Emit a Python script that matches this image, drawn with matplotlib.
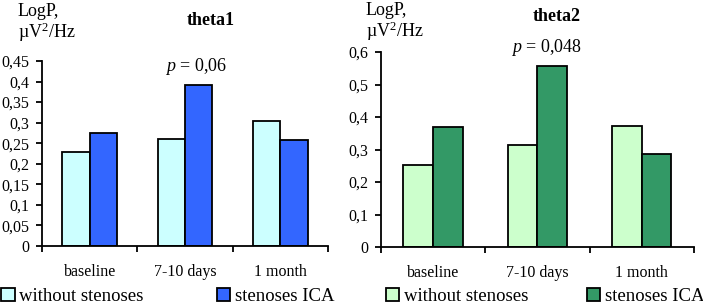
import matplotlib.pyplot as plt
import matplotlib.patches as mpatches
from matplotlib.ticker import FuncFormatter, MultipleLocator
import numpy as np

plt.rcParams['font.family'] = ['Liberation Serif', 'DejaVu Serif']
plt.rcParams['mathtext.fontset'] = 'custom'
plt.rcParams['mathtext.rm'] = 'Liberation Serif'
plt.rcParams['mathtext.it'] = 'Liberation Serif:italic'

periods = ['baseline', '7-10 days', '1 month']
series_names = ['without stenoses', 'stenoses ICA']

theta1_without = [0.229, 0.260, 0.304]
theta1_ica = [0.276, 0.391, 0.257]
theta2_without = [0.252, 0.313, 0.372]
theta2_ica = [0.369, 0.557, 0.287]

p_theta1 = '0,06'
p_theta2 = '0,048'


def comma(v, pos):
    s = ('%.2f' % v).rstrip('0').rstrip('.')
    return s.replace('.', ',')


def draw(ax, a, b, colors, ymax, step, ptext, px, py):
    x = np.arange(len(periods))
    w = 0.285
    ax.bar(x - w, a, w, align='edge', color=colors[0], edgecolor='black', linewidth=1.3)
    ax.bar(x, b, w, align='edge', color=colors[1], edgecolor='black', linewidth=1.3)
    ax.set_xlim(-0.5, len(periods) - 0.5)
    ax.set_ylim(0, ymax)
    ax.yaxis.set_major_locator(MultipleLocator(step))
    ax.yaxis.set_major_formatter(FuncFormatter(comma))
    ax.set_xticks(np.arange(len(periods) + 1) - 0.5)
    ax.set_xticklabels([])
    ax.set_xticks(x, minor=True)
    ax.set_xticklabels(periods, minor=True, fontsize=11.5)
    ax.tick_params(axis='x', which='minor', length=0, pad=13)
    ax.tick_params(axis='x', which='major', length=4, width=1.3)
    ax.tick_params(axis='y', length=4, width=1.3, labelsize=11.5, pad=5)
    for s in ['top', 'right']:
        ax.spines[s].set_visible(False)
    for s in ['left', 'bottom']:
        ax.spines[s].set_linewidth(1.3)
    ax.text(px, py, '$p$ = ' + ptext, ha='center', va='center', fontsize=13)


fig = plt.figure(figsize=(7.03, 3.08), dpi=100)
ax1 = fig.add_axes([0.0597, 0.2013, 0.4069, 0.6006])
ax2 = fig.add_axes([0.542, 0.198, 0.445, 0.633])

c1 = ['#CCFFFF', '#3366FF']
c2 = ['#CCFFCC', '#339966']
draw(ax1, theta1_without, theta1_ica, c1, 0.45, 0.05, p_theta1, 1.12, 0.436)
draw(ax2, theta2_without, theta2_ica, c2, 0.6, 0.1, p_theta2, 1.087, 0.615)

fig.text(0.300, 0.935, 'theta1', ha='center', va='center', fontsize=13, fontweight='bold')
fig.text(0.792, 0.945, 'theta2', ha='center', va='center', fontsize=13, fontweight='bold')
ylab = 'LogP,\n\u00b5V$^2$/Hz'
fig.text(0.0256, 0.99, ylab, ha='left', va='top', fontsize=13, linespacing=1.05)
fig.text(0.5206, 0.995, ylab, ha='left', va='top', fontsize=13, linespacing=1.05)

legend_pos = [(0.002, c1[0], series_names[0]), (0.309, c1[1], series_names[1]),
              (0.549, c2[0], series_names[0]), (0.835, c2[1], series_names[1])]
for xpos, col, name in legend_pos:
    h = mpatches.Patch(facecolor=col, edgecolor='black', linewidth=1.3)
    fig.legend([h], [name], loc='center left', bbox_to_anchor=(xpos, 0.037),
               frameon=False, fontsize=13.5, handlelength=0.7, handleheight=0.7,
               handletextpad=0.25, borderpad=0, borderaxespad=0)

fig.savefig('out.png', dpi=100)
